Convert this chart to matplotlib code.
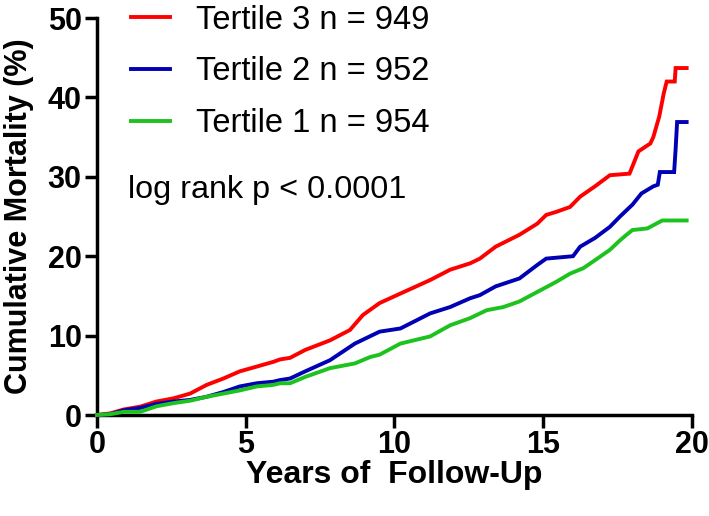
import numpy as np
import matplotlib
matplotlib.use("Agg")
import matplotlib.pyplot as plt

plt.rcParams['font.family'] = ['Liberation Sans', 'DejaVu Sans']

# Kaplan-Meier readings (years, cumulative mortality %)
t3_years = [0, 0.44, 0.9, 1.45, 2.0, 2.57, 3.13, 3.69, 4.25, 4.8, 5.37, 5.93, 6.15, 6.49,
            7.0, 7.83, 8.5, 8.94, 9.5, 10.2, 11.2, 11.87, 12.54, 12.87, 13.4, 14.2, 14.8,
            15.1, 15.45, 15.9, 16.24, 16.74, 17.24, 17.9, 18.2, 18.6, 18.7, 18.9, 19.05,
            19.15, 19.42, 19.45, 19.82]
t3_mort = [0, 0.2, 0.7, 1.05, 1.7, 2.1, 2.7, 3.8, 4.6, 5.5, 6.1, 6.7, 7.0, 7.2,
           8.2, 9.4, 10.7, 12.6, 14.1, 15.3, 17.0, 18.3, 19.1, 19.7, 21.2, 22.7, 24.1,
           25.2, 25.6, 26.2, 27.5, 28.8, 30.2, 30.4, 33.2, 34.2, 35.0, 37.6, 40.5,
           42.0, 42.0, 43.7, 43.7]

t2_years = [0, 0.44, 0.9, 1.45, 2.0, 2.57, 3.13, 3.69, 4.25, 4.8, 5.37, 5.93, 6.15, 6.49,
            7.0, 7.83, 8.67, 9.5, 10.2, 11.2, 11.87, 12.54, 12.87, 13.4, 14.2, 14.8, 15.1,
            16.0, 16.24, 16.74, 17.24, 17.58, 18.0, 18.3, 18.7, 18.85, 18.92, 19.4, 19.45,
            19.5, 19.82]
t2_mort = [0, 0.1, 0.6, 0.9, 1.4, 1.7, 1.9, 2.3, 2.9, 3.6, 4.0, 4.2, 4.4, 4.6,
           5.5, 6.9, 9.0, 10.5, 10.9, 12.8, 13.6, 14.7, 15.1, 16.2, 17.2, 18.9, 19.7,
           20.0, 21.2, 22.3, 23.7, 25.0, 26.5, 27.9, 28.8, 29.0, 30.6, 30.6, 33.5,
           36.9, 36.9]

t1_years = [0, 0.44, 0.9, 1.45, 2.0, 2.57, 3.13, 3.69, 4.25, 4.8, 5.37, 5.93, 6.15, 6.49,
            7.0, 7.83, 8.67, 9.18, 9.5, 10.2, 11.2, 11.87, 12.54, 13.1, 13.66, 14.2, 14.8,
            15.45, 15.9, 16.35, 16.74, 17.24, 17.58, 17.8, 18.0, 18.5, 19.0, 19.82]
t1_mort = [0, 0.1, 0.4, 0.4, 1.1, 1.5, 1.8, 2.3, 2.7, 3.1, 3.6, 3.8, 4.0, 4.0,
           4.8, 5.9, 6.5, 7.3, 7.6, 9.0, 9.9, 11.3, 12.2, 13.2, 13.6, 14.3, 15.5,
           16.8, 17.8, 18.5, 19.5, 20.8, 22.0, 22.7, 23.3, 23.5, 24.5, 24.5]

labels = ['Tertile 3 n = 949', 'Tertile 2 n = 952', 'Tertile 1 n = 954']
colors = ['#ff0000', '#0000b4', '#1ec21e']

fig = plt.figure(figsize=(7.09, 5.16), dpi=100)
ax = fig.add_axes([0.1368, 0.1957, 0.8392, 0.7694])

series = [(t3_years, t3_mort), (t2_years, t2_mort), (t1_years, t1_mort)]
for (xx, yy), lab, c in zip(series, labels, colors):
    ax.plot(xx, yy, color=c, lw=2.8, label=lab, clip_on=False, zorder=3,
            solid_joinstyle='miter')

ax.set_xlim(0, 20)
ax.set_ylim(0, 50)
ax.set_xticks(np.arange(0, 21, 5))
ax.set_yticks(np.arange(0, 51, 10))

for s in ['top', 'right']:
    ax.spines[s].set_visible(False)
for s in ['left', 'bottom']:
    ax.spines[s].set_linewidth(2.5)

ax.tick_params(direction='out', length=9, width=2.5, labelsize=22, pad=2)
for lbl in ax.get_xticklabels() + ax.get_yticklabels():
    lbl.set_fontweight('bold')

ax.set_xlabel('Years of  Follow-Up', fontsize=23, fontweight='bold', labelpad=0)
ax.set_ylabel('Cumulative Mortality (%)', fontsize=22, fontweight='bold', labelpad=10)

ax.legend(loc='upper left', bbox_to_anchor=(0.0355, 1.066), frameon=False, fontsize=23.5,
          handlelength=1.2, handletextpad=0.8, labelspacing=0.63, borderaxespad=0)

ax.text(0.052, 0.547, 'log rank p < 0.0001', transform=ax.transAxes, fontsize=23.3,
        ha='left', va='baseline')

fig.savefig('out.png', dpi=100)
